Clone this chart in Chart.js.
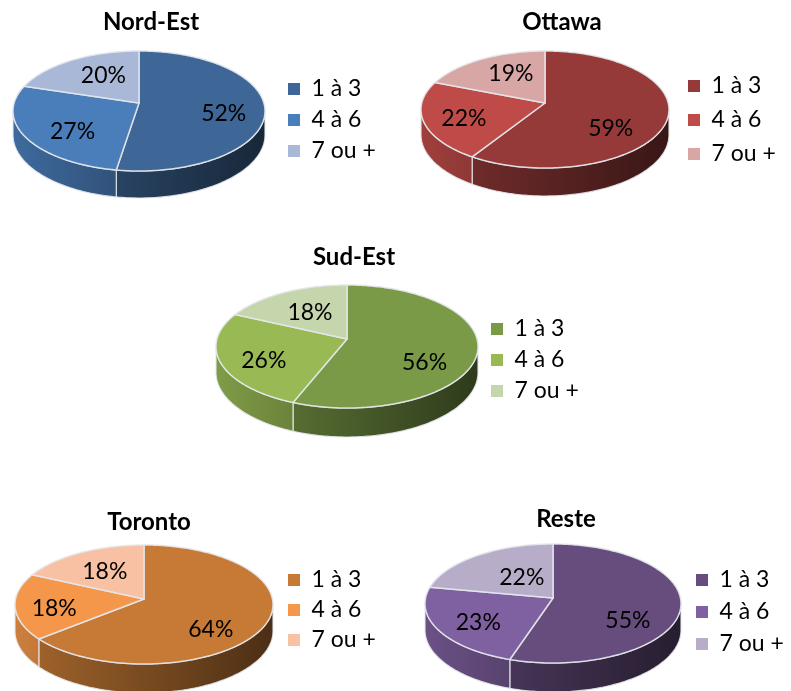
<!DOCTYPE html>
<html>
<head>
<meta charset="utf-8">
<style>
  html, body { margin: 0; background: #fff; }
  canvas { position: absolute; left: 0; top: 0; }
</style>
<script src="https://cdn.jsdelivr.net/npm/chart.js@4/dist/chart.umd.js"></script>
</head>
<body>
<canvas id="nordEst" width="791" height="691"></canvas>
<canvas id="ottawa" width="791" height="691"></canvas>
<canvas id="sudEst" width="791" height="691"></canvas>
<canvas id="toronto" width="791" height="691"></canvas>
<canvas id="reste" width="791" height="691"></canvas>
<script>
const categories = ['1 à 3', '4 à 6', '7 ou +'];

const nordEst = [52, 27, 20];
const ottawa = [59, 22, 19];
const sudEst = [56, 26, 18];
const toronto = [64, 18, 18];
const reste = [55, 23, 22];

const FONT = 'Lato, Carlito, sans-serif';
const RIM = 'rgba(228,232,236,0.9)';

// 3D look: each slice is projected onto a tilted disc, the front gets a wall
class Arc3d extends Chart.ArcElement {
    static id = 'arc3d';
    static defaults = { rimUp: 52, rimDown: 68, depth: 27 };

    project(angle, frac) {
        const { rimUp, rimDown } = this.options;
        const p = (rimDown - rimUp) / (rimDown + rimUp);
        const w = 1 - p * Math.sin(angle) * frac;
        return {
            x: this.x + this.outerRadius * Math.cos(angle) * frac / w,
            y: this.y + rimUp * (1 + p) * Math.sin(angle) * frac / w,
            w: w
        };
    }

    draw(ctx) {
        const { rimUp, rimDown, depth, backgroundColor } = this.options;
        const p = (rimDown - rimUp) / (rimDown + rimUp);
        const step = Math.PI / 180;
        const side = Math.asin(p);
        const from = Math.max(this.startAngle, side);
        const to = Math.min(this.endAngle, Math.PI - side);

        ctx.save();
        ctx.lineJoin = 'round';
        if (to > from) {
            const top = [], bottom = [];
            for (let a = from; a < to + step; a += step) {
                const q = this.project(Math.min(a, to), 1);
                top.push(q);
                bottom.push({ x: q.x, y: q.y + depth * (1 - p) / q.w });
            }
            ctx.beginPath();
            top.forEach((q, i) => i ? ctx.lineTo(q.x, q.y) : ctx.moveTo(q.x, q.y));
            bottom.reverse().forEach(q => ctx.lineTo(q.x, q.y));
            ctx.closePath();
            ctx.fillStyle = backgroundColor;
            ctx.fill();
            const r = this.outerRadius;
            const shade = ctx.createLinearGradient(this.x - r, 0, this.x + r, 0);
            shade.addColorStop(0, 'rgba(0,0,0,0.16)');
            shade.addColorStop(1, 'rgba(0,0,0,0.62)');
            ctx.fillStyle = shade;
            ctx.fill();
            ctx.strokeStyle = RIM;
            ctx.lineWidth = 1.2;
            ctx.stroke();
        }

        ctx.beginPath();
        ctx.moveTo(this.x, this.y);
        for (let a = this.startAngle; a < this.endAngle + step; a += step) {
            const q = this.project(Math.min(a, this.endAngle), 1);
            ctx.lineTo(q.x, q.y);
        }
        ctx.closePath();
        ctx.fillStyle = backgroundColor;
        ctx.fill();
        ctx.strokeStyle = RIM;
        ctx.lineWidth = 1.5;
        ctx.stroke();
        ctx.restore();
    }
}

class Pie3d extends Chart.PieController {
    static id = 'pie3d';
    static defaults = { dataElementType: 'arc3d' };
}

Chart.register(Arc3d, Pie3d);

const placement = {
    id: 'placement',
    afterLayout(chart, args, o) {
        const half = 200;
        chart.chartArea = {
            left: o.cx - half, right: o.cx + half, top: o.cy - half, bottom: o.cy + half,
            width: half * 2, height: half * 2
        };
        const title = chart.titleBlock;
        title.left = o.titleX - half;
        title.right = o.titleX + half;
        title.top = o.titleY - 14.4;
        const legend = chart.legend;
        const pad = legend.options.labels.padding;
        legend.left = o.legendX - pad;
        legend.top = o.legendY - pad - 11.5;
        legend.bottom = chart.height;
    }
};

const sliceLabels = {
    id: 'sliceLabels',
    afterDatasetsDraw(chart, args, o) {
        const { ctx } = chart;
        ctx.save();
        ctx.font = '23px ' + FONT;
        ctx.fillStyle = '#000';
        ctx.textAlign = 'center';
        ctx.textBaseline = 'middle';
        chart.getDatasetMeta(0).data.forEach((arc, i) => {
            const mid = (arc.startAngle + arc.endAngle) / 2;
            const q = arc.project(mid, 0.66);
            ctx.fillText(chart.data.datasets[0].data[i] + '%', q.x + o.nudge[i][0], q.y + o.nudge[i][1]);
        });
        ctx.restore();
    }
};

function makePie(id, title, values, colors, box) {
    const p = (box.rimDown - box.rimUp) / (box.rimDown + box.rimUp);
    return new Chart(document.getElementById(id), {
        type: 'pie3d',
        data: {
            labels: categories,
            datasets: [{
                data: values,
                backgroundColor: colors,
                borderWidth: 0,
                radius: box.halfWidth * Math.sqrt(1 - p * p),
                rimUp: box.rimUp,
                rimDown: box.rimDown,
                depth: box.depth
            }]
        },
        options: {
            responsive: false,
            animation: false,
            events: [],
            plugins: {
                title: {
                    display: true,
                    text: title,
                    color: '#000',
                    padding: 0,
                    font: { family: FONT, size: 24, weight: 'bold' }
                },
                legend: {
                    position: 'chartArea',
                    align: 'start',
                    labels: {
                        boxWidth: 12,
                        boxHeight: 12,
                        padding: box.rowGap,
                        color: '#000',
                        font: { family: FONT, size: 23 }
                    }
                },
                tooltip: { enabled: false },
                placement: box,
                sliceLabels: { nudge: box.nudge }
            }
        },
        plugins: [placement, sliceLabels]
    });
}

makePie('nordEst', 'Nord-Est', nordEst, ['#3E6797', '#4A7EBB', '#A9B8D6'], {
    cx: 139, cy: 103, rimUp: 52, rimDown: 68, halfWidth: 126, depth: 27,
    titleX: 151, titleY: 22, legendX: 288, legendY: 89, rowGap: 8,
    nudge: [[2, 7], [7, 7], [10, 2]]
});
makePie('ottawa', 'Ottawa', ottawa, ['#953A39', '#BE4B48', '#D7A6A5'], {
    cx: 545, cy: 103, rimUp: 52, rimDown: 65, halfWidth: 124, depth: 28,
    titleX: 562, titleY: 22, legendX: 688, legendY: 86, rowGap: 11,
    nudge: [[-14, 15], [-2, 4], [9, 0]]
});
makePie('sudEst', 'Sud-Est', sudEst, ['#7A9A47', '#98B954', '#C6D6AC'], {
    cx: 347, cy: 339, rimUp: 54, rimDown: 69, halfWidth: 131, depth: 29,
    titleX: 354, titleY: 257, legendX: 491, legendY: 329, rowGap: 8,
    nudge: [[-8, 16], [-1, 6], [6, 5]]
});
makePie('toronto', 'Toronto', toronto, ['#C67A35', '#F4974A', '#F8C1A4'], {
    cx: 144, cy: 599, rimUp: 54, rimDown: 65, halfWidth: 129, depth: 29,
    titleX: 149, titleY: 522, legendX: 288, legendY: 580, rowGap: 7,
    nudge: [[-12, 14], [-5, 5], [4, 4]]
});
makePie('reste', 'Reste', reste, ['#664D7E', '#7F60A0', '#B8ADC8'], {
    cx: 553, cy: 598, rimUp: 54, rimDown: 65, halfWidth: 128, depth: 29,
    titleX: 566, titleY: 519, legendX: 696, legendY: 580, rowGap: 9,
    nudge: [[-9, 16], [0, 4], [20, 8]]
});
</script>
</body>
</html>
